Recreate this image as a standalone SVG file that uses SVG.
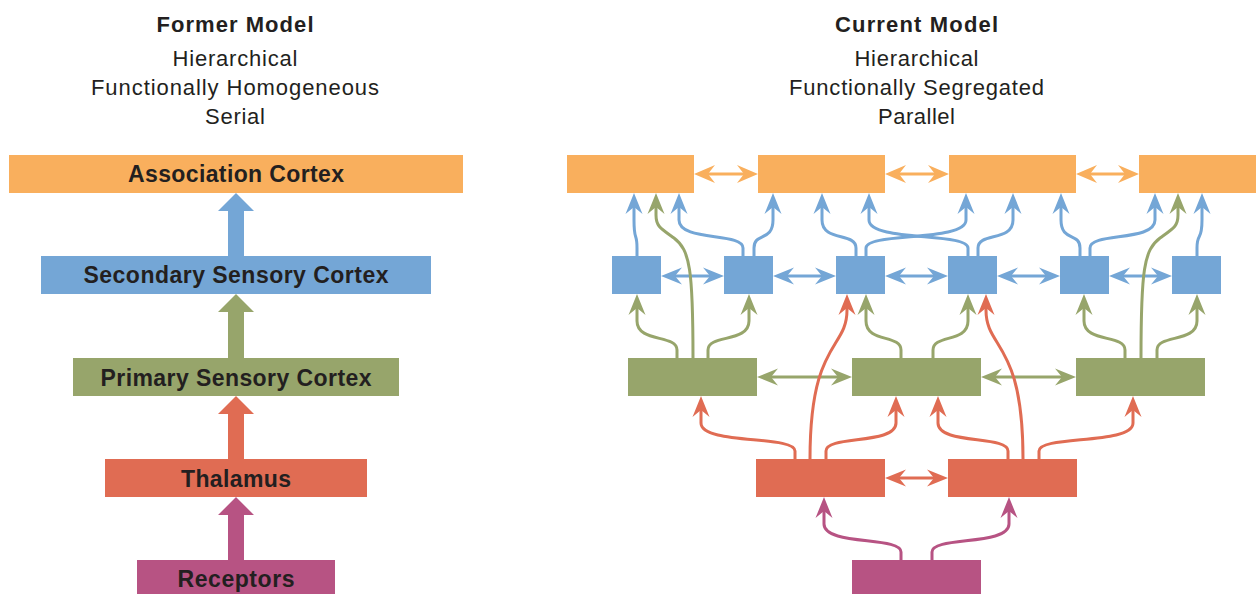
<svg xmlns="http://www.w3.org/2000/svg" width="1256" height="594" viewBox="0 0 1256 594">
<style>
text{font-family:"Liberation Sans",Arial,Helvetica,sans-serif;fill:#231F20;text-anchor:middle}
.t{font-size:22px;font-weight:bold}
.s{font-size:22px}
.lb{font-size:23px;font-weight:bold}
.or{fill:#F9AF5D}.bl{fill:#74A6D6}.gr{fill:#97A56B}.rd{fill:#E06C53}.mg{fill:#B75383}
.c{fill:none;stroke-width:3}
.co{stroke:#F9AF5D;marker-end:url(#mo);marker-start:url(#mo)}
.cb{stroke:#74A6D6;marker-end:url(#mb)}
.cbd{stroke:#74A6D6;marker-end:url(#mb);marker-start:url(#mb)}
.cg{stroke:#97A56B;marker-end:url(#mgn)}
.cgd{stroke:#97A56B;marker-end:url(#mgn);marker-start:url(#mgn)}
.cr{stroke:#E06C53;marker-end:url(#mr)}
.crd{stroke:#E06C53;marker-end:url(#mr);marker-start:url(#mr)}
.cm{stroke:#B75383;marker-end:url(#mm)}
</style>
<defs>
<marker id="mo" markerUnits="userSpaceOnUse" markerWidth="40" markerHeight="40" refX="0" refY="0" orient="auto-start-reverse" overflow="visible"><path d="M8,0 L-13,-9 L-6,0 L-13,9 Z" fill="#F9AF5D"/></marker>
<marker id="mb" markerUnits="userSpaceOnUse" markerWidth="40" markerHeight="40" refX="0" refY="0" orient="auto-start-reverse" overflow="visible"><path d="M8,0 L-13,-8.5 L-6,0 L-13,8.5 Z" fill="#74A6D6"/></marker>
<marker id="mgn" markerUnits="userSpaceOnUse" markerWidth="40" markerHeight="40" refX="0" refY="0" orient="auto-start-reverse" overflow="visible"><path d="M8,0 L-13,-8.5 L-6,0 L-13,8.5 Z" fill="#97A56B"/></marker>
<marker id="mr" markerUnits="userSpaceOnUse" markerWidth="40" markerHeight="40" refX="0" refY="0" orient="auto-start-reverse" overflow="visible"><path d="M8,0 L-13,-8.5 L-6,0 L-13,8.5 Z" fill="#E06C53"/></marker>
<marker id="mm" markerUnits="userSpaceOnUse" markerWidth="40" markerHeight="40" refX="0" refY="0" orient="auto-start-reverse" overflow="visible"><path d="M8,0 L-13,-8.5 L-6,0 L-13,8.5 Z" fill="#B75383"/></marker>
</defs>

<g id="headings">
<text class="t" x="235" y="32" textLength="157" lengthAdjust="spacing">Former Model</text>
<text class="s" x="235" y="66" textLength="125" lengthAdjust="spacing">Hierarchical</text>
<text class="s" x="235" y="95" textLength="288" lengthAdjust="spacing">Functionally Homogeneous</text>
<text class="s" x="235" y="124" textLength="60" lengthAdjust="spacing">Serial</text>
<text class="t" x="916.5" y="32" textLength="163" lengthAdjust="spacing">Current Model</text>
<text class="s" x="916.5" y="66" textLength="124" lengthAdjust="spacing">Hierarchical</text>
<text class="s" x="916.5" y="95" textLength="255" lengthAdjust="spacing">Functionally Segregated</text>
<text class="s" x="916.5" y="124" textLength="77" lengthAdjust="spacing">Parallel</text>
</g>

<g id="former-connectors">
<polygon class="bl" points="218,211 236,193 254,211 244,211 244,256 228,256 228,211"/>
<polygon class="gr" points="218,312 236,294 254,312 244,312 244,358 228,358 228,312"/>
<polygon class="rd" points="218,414 236,396 254,414 244,414 244,459 228,459 228,414"/>
<polygon class="mg" points="218,515 236,497 254,515 244,515 244,560 228,560 228,515"/>
</g>

<g id="former-association"><rect class="or" x="9" y="155" width="454" height="38"/><text class="lb" x="236" y="182" textLength="216" lengthAdjust="spacing">Association Cortex</text></g>
<g id="former-secondary"><rect class="bl" x="41" y="256" width="390" height="38"/><text class="lb" x="236" y="283" textLength="305" lengthAdjust="spacing">Secondary Sensory Cortex</text></g>
<g id="former-primary"><rect class="gr" x="73" y="358" width="326" height="38"/><text class="lb" x="236" y="386" textLength="271" lengthAdjust="spacing">Primary Sensory Cortex</text></g>
<g id="former-thalamus"><rect class="rd" x="105" y="459" width="262" height="38"/><text class="lb" x="236" y="487" textLength="110" lengthAdjust="spacing">Thalamus</text></g>
<g id="former-receptors"><rect class="mg" x="137" y="560" width="198" height="34"/><text class="lb" x="236" y="587" textLength="117" lengthAdjust="spacing">Receptors</text></g>

<g id="current-connectors">
<path class="c co" d="M702 174 H750"/>
<path class="c co" d="M893 174 H941"/>
<path class="c co" d="M1084 174 H1131"/>
<path class="c cbd" d="M669 276 H716"/>
<path class="c cbd" d="M781 276 H828"/>
<path class="c cbd" d="M893 276 H940"/>
<path class="c cbd" d="M1005 276 H1052"/>
<path class="c cbd" d="M1117 276 H1164"/>
<path class="c cgd" d="M765 377 H844"/>
<path class="c cgd" d="M989 377 H1068"/>
<path class="c crd" d="M893 478 H940"/>
<path class="c cb" d="M637 256 V248 C637 232 634 242 634 220 V201"/>
<path class="c cb" d="M743 256 V248 C743 232 679 242 679 220 V201"/>
<path class="c cb" d="M754 256 V248 C754 232 773 242 773 220 V201"/>
<path class="c cb" d="M856 256 V248 C856 232 822 242 822 220 V201"/>
<path class="c cb" d="M866 256 V248 C866 232 966 242 966 220 V201"/>
<path class="c cb" d="M968 256 V248 C968 232 869 242 869 220 V201"/>
<path class="c cb" d="M978 256 V248 C978 232 1013 242 1013 220 V201"/>
<path class="c cb" d="M1080 256 V248 C1080 232 1061 242 1061 220 V201"/>
<path class="c cb" d="M1090 256 V248 C1090 232 1155 242 1155 220 V201"/>
<path class="c cb" d="M1197 256 V248 C1197 232 1202 242 1202 220 V201"/>
<path class="c cg" d="M677 358 V350 C677 334 637 343 637 321 V302"/>
<path class="c cg" d="M708 358 V350 C708 334 749 343 749 321 V302"/>
<path class="c cg" d="M901 358 V350 C901 334 866 343 866 321 V302"/>
<path class="c cg" d="M933 358 V350 C933 334 968 343 968 321 V302"/>
<path class="c cg" d="M1125 358 V350 C1125 334 1084 343 1084 321 V302"/>
<path class="c cg" d="M1157 358 V350 C1157 334 1197 343 1197 321 V302"/>
<path class="c cg" d="M693 358 C693 270 690 250 674 238 C660 228 656 226 656 215 V201"/>
<path class="c cg" d="M1141 358 C1141 270 1144 250 1160 238 C1174 228 1178 226 1178 215 V201"/>
<path class="c cr" d="M795 459 V451 C795 435 701 445 701 423 V404"/>
<path class="c cr" d="M826 459 V451 C826 435 896 445 896 423 V404"/>
<path class="c cr" d="M1008 459 V451 C1008 435 938 445 938 423 V404"/>
<path class="c cr" d="M1039 459 V451 C1039 435 1133 445 1133 423 V404"/>
<path class="c cr" d="M810 459 C810 340 847 350 847 310 V302"/>
<path class="c cr" d="M1023 459 C1023 340 986 350 986 310 V302"/>
<path class="c cm" d="M901 560 V552 C901 536 824 546 824 524 V505"/>
<path class="c cm" d="M932 560 V552 C932 536 1009 546 1009 524 V505"/>
</g>

<g id="assoc-1"><rect class="or" x="567" y="155" width="127" height="38"/></g>
<g id="assoc-2"><rect class="or" x="758" y="155" width="127" height="38"/></g>
<g id="assoc-3"><rect class="or" x="949" y="155" width="127" height="38"/></g>
<g id="assoc-4"><rect class="or" x="1139" y="155" width="117" height="38"/></g>

<g id="secondary-1"><rect class="bl" x="612" y="256" width="49" height="38"/></g>
<g id="secondary-2"><rect class="bl" x="724" y="256" width="49" height="38"/></g>
<g id="secondary-3"><rect class="bl" x="836" y="256" width="49" height="38"/></g>
<g id="secondary-4"><rect class="bl" x="948" y="256" width="49" height="38"/></g>
<g id="secondary-5"><rect class="bl" x="1060" y="256" width="49" height="38"/></g>
<g id="secondary-6"><rect class="bl" x="1172" y="256" width="49" height="38"/></g>

<g id="primary-1"><rect class="gr" x="628" y="358" width="129" height="38"/></g>
<g id="primary-2"><rect class="gr" x="852" y="358" width="129" height="38"/></g>
<g id="primary-3"><rect class="gr" x="1076" y="358" width="129" height="38"/></g>

<g id="thalamus-1"><rect class="rd" x="756" y="459" width="129" height="38"/></g>
<g id="thalamus-2"><rect class="rd" x="948" y="459" width="129" height="38"/></g>

<g id="receptors"><rect class="mg" x="852" y="560" width="129" height="34"/></g>
</svg>
